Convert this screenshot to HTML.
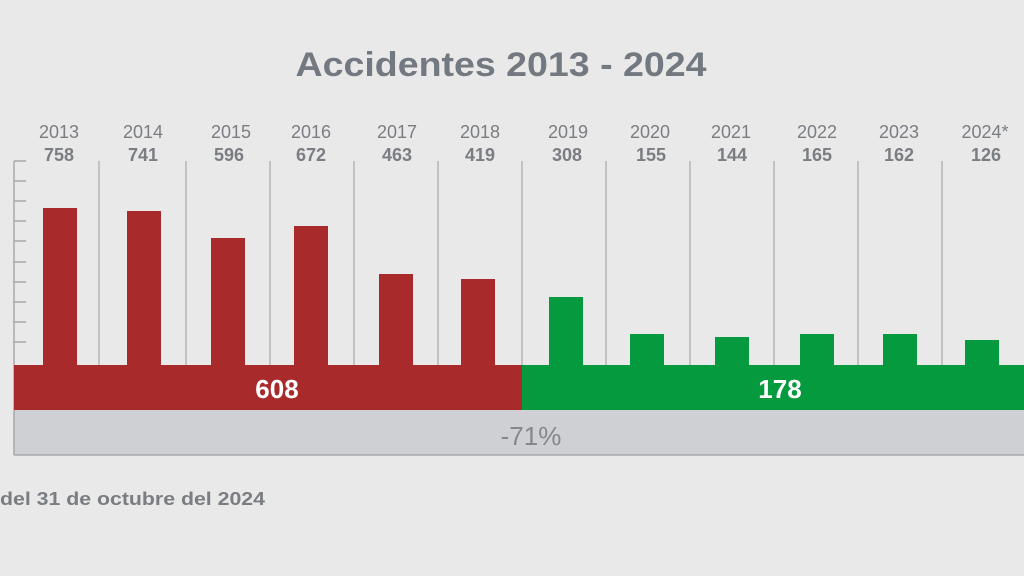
<!DOCTYPE html>
<html><head><meta charset="utf-8"><style>
html,body{margin:0;padding:0;background:#e9e9e9;}
svg{display:block;font-family:"Liberation Sans",sans-serif;}
</style></head><body>
<svg width="1024" height="576" viewBox="0 0 1024 576">
<rect width="1024" height="576" fill="#e9e9e9"/>
<text x="501" y="76" text-anchor="middle" font-size="34" font-weight="bold" fill="#737980" textLength="411" lengthAdjust="spacingAndGlyphs">Accidentes 2013 - 2024</text>
<rect x="14" y="410" width="1010" height="45" fill="#cfd0d3"/>
<line x1="14" y1="455" x2="1024" y2="455" stroke="#a5a7ab" stroke-width="1.5"/>
<text x="531" y="445" text-anchor="middle" font-size="26" fill="#85878b">-71%</text>
<line x1="14" y1="161" x2="14" y2="455" stroke="#a5a7ab" stroke-width="1.5"/>
<g stroke="#a5a7ab" stroke-width="1.5">
<line x1="14" y1="161" x2="26" y2="161"/><line x1="14" y1="181" x2="26" y2="181"/><line x1="14" y1="201" x2="26" y2="201"/><line x1="14" y1="221" x2="26" y2="221"/><line x1="14" y1="241" x2="26" y2="241"/><line x1="14" y1="262" x2="26" y2="262"/><line x1="14" y1="282" x2="26" y2="282"/><line x1="14" y1="302" x2="26" y2="302"/><line x1="14" y1="322" x2="26" y2="322"/><line x1="14" y1="342" x2="26" y2="342"/>
</g>
<g stroke="#9a9c9f" stroke-width="1">
<line x1="99" y1="161" x2="99" y2="365"/><line x1="186" y1="161" x2="186" y2="365"/><line x1="270" y1="161" x2="270" y2="365"/><line x1="354" y1="161" x2="354" y2="365"/><line x1="438" y1="161" x2="438" y2="365"/><line x1="522" y1="161" x2="522" y2="365"/><line x1="606" y1="161" x2="606" y2="365"/><line x1="690" y1="161" x2="690" y2="365"/><line x1="774" y1="161" x2="774" y2="365"/><line x1="858" y1="161" x2="858" y2="365"/><line x1="942" y1="161" x2="942" y2="365"/>
</g>
<rect x="14" y="365" width="508" height="45" fill="#a82a2a"/>
<rect x="522" y="365" width="502" height="45" fill="#069a3e"/>
<text x="277" y="398" text-anchor="middle" font-size="26" font-weight="bold" fill="#fff">608</text>
<text x="780" y="398" text-anchor="middle" font-size="26" font-weight="bold" fill="#fff">178</text>
<g fill="#a82a2a">
<rect x="43" y="208" width="34" height="158"/><rect x="127" y="211" width="34" height="155"/><rect x="211" y="238" width="34" height="128"/><rect x="294" y="226" width="34" height="140"/><rect x="379" y="274" width="34" height="92"/><rect x="461" y="279" width="34" height="87"/>
</g>
<g fill="#069a3e">
<rect x="549" y="297" width="34" height="69"/><rect x="630" y="334" width="34" height="32"/><rect x="715" y="337" width="34" height="29"/><rect x="800" y="334" width="34" height="32"/><rect x="883" y="334" width="34" height="32"/><rect x="965" y="340" width="34" height="26"/>
</g>
<g font-size="18" fill="#7a7d82" text-anchor="middle">
<text x="59" y="138">2013</text><text x="143" y="138">2014</text><text x="231" y="138">2015</text><text x="311" y="138">2016</text><text x="397" y="138">2017</text><text x="480" y="138">2018</text><text x="568" y="138">2019</text><text x="650" y="138">2020</text><text x="731" y="138">2021</text><text x="817" y="138">2022</text><text x="899" y="138">2023</text><text x="985" y="138">2024*</text>
</g>
<g font-size="18" font-weight="bold" fill="#7a7d82" text-anchor="middle">
<text x="59" y="161">758</text><text x="143" y="161">741</text><text x="229" y="161">596</text><text x="311" y="161">672</text><text x="397" y="161">463</text><text x="480" y="161">419</text><text x="567" y="161">308</text><text x="651" y="161">155</text><text x="732" y="161">144</text><text x="817" y="161">165</text><text x="899" y="161">162</text><text x="986" y="161">126</text>
</g>
<text x="0" y="505" font-size="18" font-weight="bold" fill="#7a7d82" textLength="265" lengthAdjust="spacingAndGlyphs">del 31 de octubre del 2024</text>
</svg>
</body></html>
